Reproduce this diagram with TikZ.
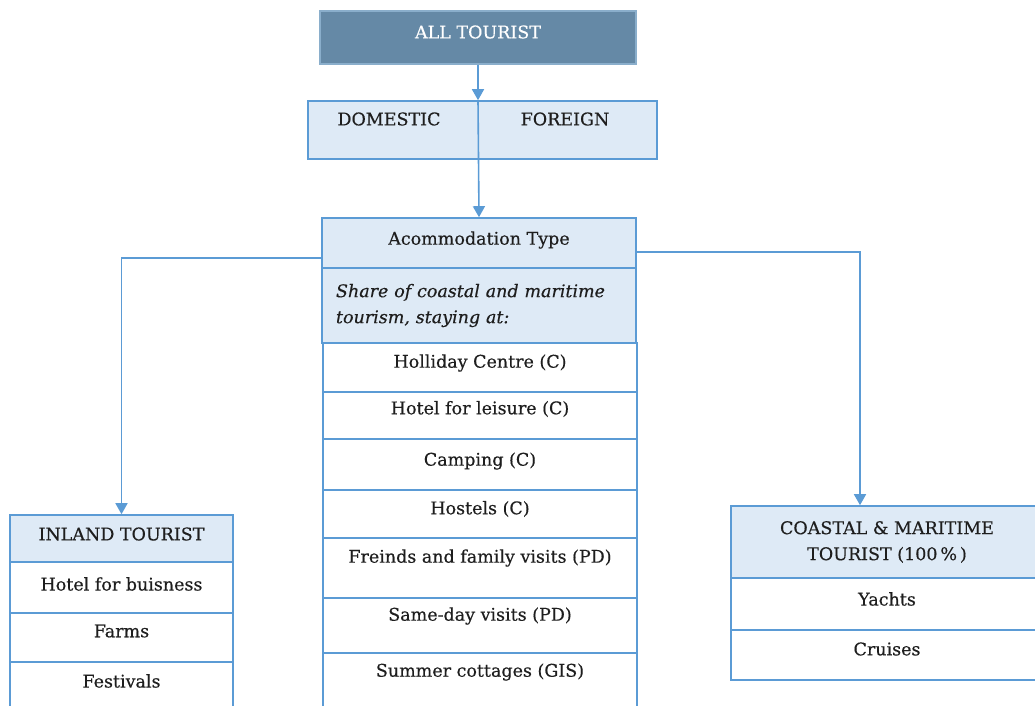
\documentclass[tikz,border=0pt]{standalone}
\usepackage{fontspec}
\setmainfont[FakeBold=0.35]{DejaVu Serif}
\usetikzlibrary{arrows.meta}
\definecolor{tourLine}{HTML}{5B9BD5}
\definecolor{tourPale}{HTML}{DEEAF6}
\definecolor{tourSlate}{HTML}{6589A6}
\definecolor{tourSlateLine}{HTML}{8AAECB}
\definecolor{tourText}{HTML}{1E1E1E}

\begin{document}
\begin{tikzpicture}[x=1pt, y=-1pt,
  box/.style={draw=tourLine, line width=1.6pt, fill=tourPale, text=tourText,
    inner sep=0pt, align=center, font=\fontsize{17.5}{26}\selectfont},
  cell/.style={draw=tourLine, line width=1.6pt, fill=white},
  celltext/.style={text=tourText, inner sep=0pt, font=\fontsize{17.5}{26}\selectfont},
  arr/.style={-{Triangle[length=11pt, width=12pt]}, line width=1.6pt, color=tourLine}
]
  \useasboundingbox (0,0) rectangle (1035,705);
  \clip (0,0) rectangle (1035,705);

  % top of the tree
  \node[box, fill=tourSlate, draw=tourSlateLine, text=white,
    minimum width=316pt, minimum height=53pt] (all) at (478,37.5) {};
  \node[celltext, text=white] (alltxt) at (478,32) {ALL TOURIST};
  \node[box, minimum width=349pt, minimum height=58pt] (dom) at (482.5,130) {};
  \node[celltext] (domtxt) at (389,119) {DOMESTIC};
  \node[celltext] (fortxt) at (565,119) {FOREIGN};

  % accommodation column
  \node[box, minimum width=314pt, minimum height=50pt] (acc) at (479,243) {};
  \node[celltext] (acctxt) at (479,240) {Acommodation Type};
  \node[box, minimum width=314pt, minimum height=75pt, text width=286pt, align=left,
    font=\fontsize{17.5}{26}\selectfont\itshape] (share) at (479,305.5)
    {Share of coastal and maritime\\tourism, staying at:};
  \foreach \ya/\yb/\yt/\lbl [count=\i] in {
      343/392/363/Holliday Centre (C),
      392/439/409/Hotel for leisure (C),
      439/490/461/Camping (C),
      490/538/509/Hostels (C),
      538/598/558/Freinds and family visits (PD),
      598/653/616/Same-day visits (PD),
      653/715/672/Summer cottages (GIS)}{
    \draw[cell] (323,\ya) rectangle (637,\yb);
    \node[celltext] (stay\i) at (480,\yt) {\lbl};
  }

  % inland column
  \node[box, minimum width=223pt, minimum height=47pt] (inl) at (121.5,538.5) {};
  \node[celltext] (inltxt) at (121.5,534) {INLAND TOURIST};
  \foreach \ya/\yb/\yt/\lbl [count=\i] in {
      562/613/584/Hotel for buisness,
      613/662/631/Farms,
      662/715/681/Festivals}{
    \draw[cell] (10,\ya) rectangle (233,\yb);
    \node[celltext] (inl\i) at (121.5,\yt) {\lbl};
  }

  % coastal column
  \node[box, minimum width=312pt, minimum height=72pt] (coast) at (887,542)
    {COASTAL \& MARITIME\\TOURIST (100\,\%\,)};
  \foreach \ya/\yb/\yt/\lbl [count=\i] in {
      578/630/599/Yachts,
      630/680/649/Cruises}{
    \draw[cell] (731,\ya) rectangle (1043,\yb);
    \node[celltext] (coast\i) at (887,\yt) {\lbl};
  }

  % connectors
  \draw[arr] (all.south) -- (all.south |- dom.north);
  \draw[arr] (all.south |- dom.north) -- (acc.north);
  \draw[arr] ([yshift=-15pt]acc.west) -| (inl.north);
  \draw[arr] ([yshift=-9pt]acc.east) -| ([xshift=-27pt]coast.north);
\end{tikzpicture}
\end{document}
